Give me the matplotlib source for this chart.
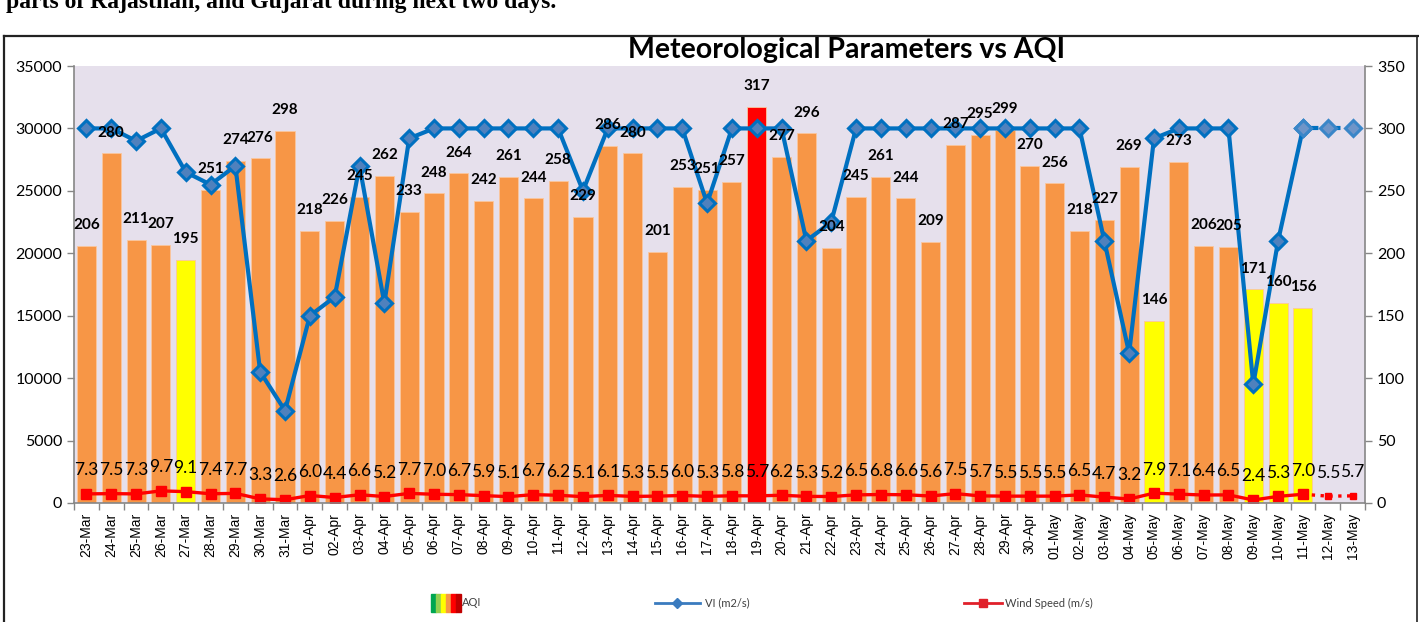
import numpy as np
import matplotlib.pyplot as plt

# dates 23-Mar .. 13-May (AQI observed till 11-May, VI / wind forecast till 13-May)
dates = ['23-Mar', '24-Mar', '25-Mar', '26-Mar', '27-Mar', '28-Mar', '29-Mar', '30-Mar', '31-Mar',
         '01-Apr', '02-Apr', '03-Apr', '04-Apr', '05-Apr', '06-Apr', '07-Apr', '08-Apr', '09-Apr', '10-Apr',
         '11-Apr', '12-Apr', '13-Apr', '14-Apr', '15-Apr', '16-Apr', '17-Apr', '18-Apr', '19-Apr', '20-Apr',
         '21-Apr', '22-Apr', '23-Apr', '24-Apr', '25-Apr', '26-Apr', '27-Apr', '28-Apr', '29-Apr', '30-Apr',
         '01-May', '02-May', '03-May', '04-May', '05-May', '06-May', '07-May', '08-May', '09-May', '10-May',
         '11-May', '12-May', '13-May']

aqi = [206, 280, 211, 207, 195, 251, 274, 276, 298,
       218, 226, 245, 262, 233, 248, 264, 242, 261, 244,
       258, 229, 286, 280, 201, 253, 251, 257, 317, 277,
       296, 204, 245, 261, 244, 209, 287, 295, 299, 270,
       256, 218, 227, 269, 146, 273, 206, 205, 171, 160, 156]

vi = [30000, 30000, 29000, 30000, 26500, 25500, 27000, 10500, 7400,
      15000, 16500, 27000, 16000, 29200, 30000, 30000, 30000, 30000, 30000,
      30000, 25000, 30000, 30000, 30000, 30000, 24000, 30000, 30000, 30000,
      21000, 22500, 30000, 30000, 30000, 30000, 30000, 30000, 30000, 30000,
      30000, 30000, 21000, 12000, 29200, 30000, 30000, 30000, 9500, 21000,
      30000, 30000, 30000]

wind = [7.3, 7.5, 7.3, 9.7, 9.1, 7.4, 7.7, 3.3, 2.6,
        6.0, 4.4, 6.6, 5.2, 7.7, 7.0, 6.7, 5.9, 5.1, 6.7,
        6.2, 5.1, 6.1, 5.3, 5.5, 6.0, 5.3, 5.8, 5.7, 6.2,
        5.3, 5.2, 6.5, 6.8, 6.6, 5.6, 7.5, 5.7, 5.5, 5.5,
        5.5, 6.5, 4.7, 3.2, 7.9, 7.1, 6.4, 6.5, 2.4, 5.3,
        7.0, 5.5, 5.7]

W, H = 1419, 622
x = np.arange(len(dates))
n_obs = len(aqi)
grey = '#868686'
plt.rcParams['font.family'] = ['Lato', 'DejaVu Sans']

def bar_colour(v):
    if v > 300:
        return '#FF0000'
    if v > 200:
        return '#F79646'
    return '#FFFF00'

fig = plt.figure(figsize=(W / 100, H / 100), dpi=100)
ax = fig.add_axes([74 / W, 1 - 503 / H, (1365 - 74) / W, (503 - 66) / H])
ax2 = ax.twinx()
ax.set_zorder(ax2.get_zorder() + 1)
ax.patch.set_visible(False)
ax2.patch.set_visible(True)
ax2.patch.set_facecolor('#E6E0EC')

# AQI bars (right axis)
ax2.bar(x[:n_obs], aqi, width=0.77, color=[bar_colour(v) for v in aqi],
        edgecolor='#FBC79D', linewidth=0.6, zorder=2)

# wind speed (right axis)
ax2.plot(x[:n_obs], wind[:n_obs], color='#FF0000', lw=2.4, marker='s', ms=6.5, zorder=3)
ax2.plot(x[n_obs - 1:], wind[n_obs - 1:], color='#FF0000', lw=2.4, ls=':', marker='s', ms=4.5, zorder=3)

# ventilation index (left axis)
ax.plot(x[:n_obs], vi[:n_obs], color='#0070C0', lw=3, marker='D', ms=8,
        mfc='#4F81BD', mec='#0070C0', mew=2.2, zorder=3)
ax.plot(x[n_obs - 1:], vi[n_obs - 1:], color='#0070C0', lw=3, ls='--', marker='D', ms=8,
        mfc='#6F95C8', mec='#3A86C8', mew=2.2, zorder=3)

# labels
for i, v in enumerate(aqi):
    ax.annotate(str(v), (x[i], v), xycoords=ax2.transData, xytext=(0, 15),
                textcoords='offset points', ha='center', va='center',
                fontsize=11, fontweight='bold', zorder=5)
for i, w in enumerate(wind):
    ax.annotate(f'{w:.1f}', (x[i], w), xycoords=ax2.transData, xytext=(0, 17),
                textcoords='offset points', ha='center', va='center',
                fontsize=12.5, zorder=5)

ax.set_xlim(-0.5, len(dates) - 0.5)
ax.set_ylim(0, 35000)
ax2.set_ylim(0, 350)
ax.set_yticks(np.arange(0, 35001, 5000))
ax2.set_yticks(np.arange(0, 351, 50))
ax.set_xticks(x)
ax.set_xticklabels(dates, rotation=90, fontsize=10, family='Liberation Sans')
ax.set_xticks(np.arange(len(dates) + 1) - 0.5, minor=True)
ax.tick_params(axis='x', which='major', length=0, pad=7)
ax.tick_params(axis='x', which='minor', length=5, color=grey, width=1)
ax.tick_params(axis='y', length=5, color=grey, width=1, labelsize=11.5)
ax2.tick_params(axis='y', length=5, color=grey, width=1, labelsize=11.5)

for a in (ax, ax2):
    for s in a.spines.values():
        s.set_visible(False)
ax.spines['left'].set_visible(True)
ax.spines['bottom'].set_visible(True)
ax2.spines['right'].set_visible(True)
for s in (ax.spines['left'], ax.spines['bottom'], ax2.spines['right']):
    s.set_color(grey)
    s.set_linewidth(1.2)

fig.text(847 / W, 1 - 50 / H, 'Meteorological Parameters vs AQI', ha='center', va='center',
         fontsize=20.5, fontweight='bold')

# overlay in pixel units for frame, clipped heading and legend
lg = fig.add_axes([0, 0, 1, 1])
lg.set_xlim(0, W)
lg.set_ylim(H, 0)
lg.axis('off')
lg.plot([4, 4], [36, H], color='#222222', lw=1.6, clip_on=False)
lg.plot([4, W], [36, 36], color='#222222', lw=1.6, clip_on=False)
lg.plot([1417, 1417], [36, H], color='#222222', lw=1.2, clip_on=False)
lg.text(6, 8, 'parts of Rajasthan, and Gujarat during next two days.', va='baseline',
        fontsize=17, fontweight='bold', family='Liberation Serif')

grad = ['#00A651', '#92D050', '#FFFF00', '#F79646', '#FF0000', '#C00000']
for k, c in enumerate(grad):
    lg.add_patch(plt.Rectangle((431 + k * 5, 594), 5, 18, color=c))
lg.text(462, 603, 'AQI', va='center', fontsize=8, color='#404040')
lg.plot([655, 700], [603, 603], color='#3A7BBF', lw=2)
lg.plot([677], [603], marker='D', ms=5, color='#3A7BBF')
lg.text(705, 603, 'VI (m2/s)', va='center', fontsize=8, color='#404040')
lg.plot([964, 1002], [603, 603], color='#E0202A', lw=2)
lg.plot([983], [603], marker='s', ms=6, color='#E0202A')
lg.text(1005, 603, 'Wind Speed (m/s)', va='center', fontsize=8, color='#404040')

fig.savefig('out.png', dpi=100)
